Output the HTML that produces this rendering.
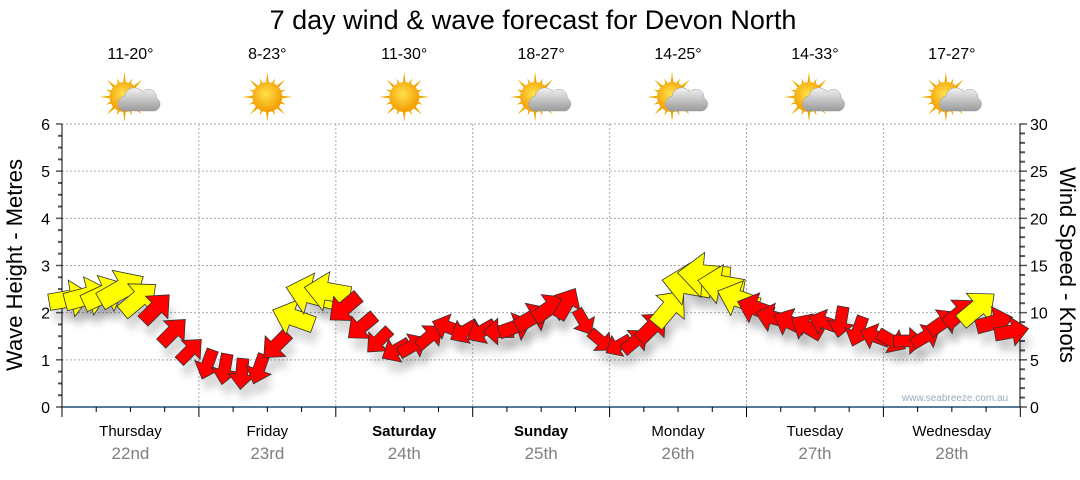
<!DOCTYPE html>
<html><head><meta charset="utf-8"><style>
body{margin:0;background:#fff;width:1080px;height:475px;overflow:hidden;font-family:"Liberation Sans",Arial,sans-serif}
</style></head><body>
<svg id="c" width="1080" height="475" xmlns="http://www.w3.org/2000/svg">
<defs>
<filter id="sh" x="-50%" y="-50%" width="200%" height="200%"><feGaussianBlur stdDeviation="4"/></filter>
<radialGradient id="sun" cx="45%" cy="40%" r="60%"><stop offset="0" stop-color="#ffe14a"/><stop offset="1" stop-color="#f39a00"/></radialGradient>
<linearGradient id="cloud" x1="0" y1="0" x2="0" y2="1"><stop offset="0" stop-color="#f2f2f2"/><stop offset="1" stop-color="#9a9a9a"/></linearGradient>
</defs>
<text x="533" y="29" font-size="27" text-anchor="middle" fill="#000">7 day wind &amp; wave forecast for Devon North</text>
<g id="grid"></g><g id="axes"></g><g id="icons"></g><g id="shadows"></g><g id="arrows"></g>
<text x="955" y="401" font-size="10" text-anchor="middle" fill="#9aaabb">www.seabreeze.com.au</text>
<text transform="translate(22,265) rotate(-90)" font-size="22" text-anchor="middle">Wave Height - Metres</text>
<text transform="translate(1060,265) rotate(90)" font-size="22" text-anchor="middle">Wind Speed - Knots</text>
</svg>
<script>
const days=["Thursday","Friday","Saturday","Sunday","Monday","Tuesday","Wednesday"];
const dates=["22nd","23rd","24th","25th","26th","27th","28th"];
const temps=["11-20°","8-23°","11-30°","18-27°","14-25°","14-33°","17-27°"];
const cloudy=[1,0,0,1,1,1,1];
const waveTicks=[0,1,2,3,4,5,6];
const windTicks=[0,5,10,15,20,25,30];
const heights=[2.3,2.35,2.4,2.5,2.3,2.1,1.6,1.2, 0.9,0.8,0.7,0.8,1.3,1.9,2.4,2.45, 2.1,1.7,1.4,1.2,1.3,1.5,1.7,1.6, 1.6,1.6,1.7,1.9,2.1,2.2,1.8,1.4, 1.3,1.4,1.7,2.1,2.6,2.8,2.6,2.3, 2.1,1.9,1.8,1.7,1.8,1.8,1.6,1.5, 1.4,1.4,1.5,1.8,2.0,2.1,1.8,1.6];
const dirs=[-10,-15,-25,-30,-40,-45,-45,-45, 110,100,95,110,135,200,195,190, 140,140,135,150,-30,-40,200,150, 150,180,-20,-30,-35,-60,60,40, 150,-40,-45,-50,190,185,190,200, 200,195,205,210,200,100,110,200, 30,0,-30,-35,-40,-40,-15,-10];
const speeds=[14,15,15,16,14,12,11,10, 10,10,10,10,11,14,16,15, 12,11,10,10,10,10,10,10, 10,10,11,12,12,11,9,9, 9,10,12,14,16,17,15,14, 12,11,11,11,10,10,10,10, 10,10,10,11,12,14,12,11];
const X0=62,DW=136.9,Y0=407,PX=47.17;
const xs=i=>X0+(i+0.5)*DW/8, yw=v=>Y0-v*PX, yk=k=>Y0-k*PX/5;
const NS="http://www.w3.org/2000/svg";
function mk(p,t,a){const e=document.createElementNS(NS,t);for(const k in a)e.setAttribute(k,a[k]);p.appendChild(e);return e;}
const G=document.getElementById('grid'),A=document.getElementById('axes'),I=document.getElementById('icons'),S=document.getElementById('shadows'),R=document.getElementById('arrows');
waveTicks.forEach(v=>{if(v>0){const l=mk(G,'line',{x1:X0,x2:1020,y1:yw(v),y2:yw(v),stroke:'#aaa','stroke-dasharray':'2,2'});

}
const t=mk(A,'text',{x:50,y:yw(v)+6,'font-size':16,'text-anchor':'end'});t.textContent=v;

});
windTicks.forEach(v=>{const t=mk(A,'text',{x:1030,y:yk(v)+6,'font-size':16});t.textContent=v;

});
for(let m=0;m<=24;m++){const y=Y0-m*PX/4;mk(A,'line',{x1:m%4?58:56,x2:X0,y1:y,y2:y,stroke:'#555','stroke-width':m%4?2:1.5});}
for(let m=0;m<=30;m++){const y=yk(m);mk(A,'line',{x1:1020,x2:m%5?1025:1027,y1:y,y2:y,stroke:'#555','stroke-width':m%5?2:1.5});}
mk(A,'line',{x1:X0,x2:X0,y1:124,y2:Y0,stroke:'#000'});mk(A,'line',{x1:1020,x2:1020,y1:124,y2:Y0,stroke:'#000'});
mk(A,'line',{x1:X0,x2:1020,y1:Y0,y2:Y0,stroke:'#1f4e79','stroke-width':1.5});
for(let q=0;q<=28;q++){const x=X0+q*DW/4;mk(A,'line',{x1:x,x2:x,y1:Y0,y2:Y0+(q%4?5:10),stroke:'#000'});}
days.forEach((d,i)=>{const cx=X0+(i+0.5)*DW;
if(i>0){const l=mk(G,'line',{x1:X0+i*DW,x2:X0+i*DW,y1:124,y2:Y0,stroke:'#aaa','stroke-dasharray':'2,2'});

}
const t=mk(A,'text',{x:cx,y:436,'font-size':15,'text-anchor':'middle','font-weight':(i==2||i==3)?'bold':'normal'});t.textContent=d;


const t2=mk(A,'text',{x:cx,y:459,'font-size':17,'text-anchor':'middle',fill:'#808080'});t2.textContent=dates[i];


const t3=mk(I,'text',{x:cx,y:59,'font-size':16,'text-anchor':'middle'});t3.textContent=temps[i];


const g=mk(I,'g',{});


const sx=cloudy[i]?cx-6:cx,sy=97;
for(let r=0;r<16;r++){const a=r*Math.PI/8,L=r%2?20:25;mk(g,'polygon',{points:`${sx+Math.cos(a-0.12)*13},${sy+Math.sin(a-0.12)*13} ${sx+Math.cos(a)*L},${sy+Math.sin(a)*L} ${sx+Math.cos(a+0.12)*13},${sy+Math.sin(a+0.12)*13}`,fill:'#f0a800'});}
mk(g,'circle',{cx:sx,cy:sy,r:15,fill:'url(#sun)'});
if(cloudy[i]){mk(g,'path',{d:`M${cx-8} ${sy+14} a8 8 0 0 1 2-15 a10 10 0 0 1 18-4 a8 8 0 0 1 14 6 a7 7 0 0 1 -2 13 z`,fill:'url(#cloud)',stroke:'#999','stroke-width':0.5});}
});
function arrowPts(L){const w=L*0.38,hw=L*0.85,hl=L*0.48;return [[-L/2,-w/2],[L/2-hl,-w/2],[L/2-hl,-hw/2],[L/2,0],[L/2-hl,hw/2],[L/2-hl,w/2],[-L/2,w/2]].map(p=>p.join(',')).join(' ');}
heights.forEach((h,i)=>{const L=speeds[i]*3.1,x=xs(i),y=yw(h),tf=`translate(${x},${y}) rotate(${dirs[i]})`;
mk(S,'polygon',{points:arrowPts(L),transform:`translate(${x+4},${y+12}) rotate(${dirs[i]})`,fill:'#000',opacity:0.15,filter:'url(#sh)'});
const p=mk(R,'polygon',{points:arrowPts(L),transform:tf,fill:speeds[i]>=14?'#ffff00':'#ff0000',stroke:'#333','stroke-width':0.8});

});
</script>
</body></html>
